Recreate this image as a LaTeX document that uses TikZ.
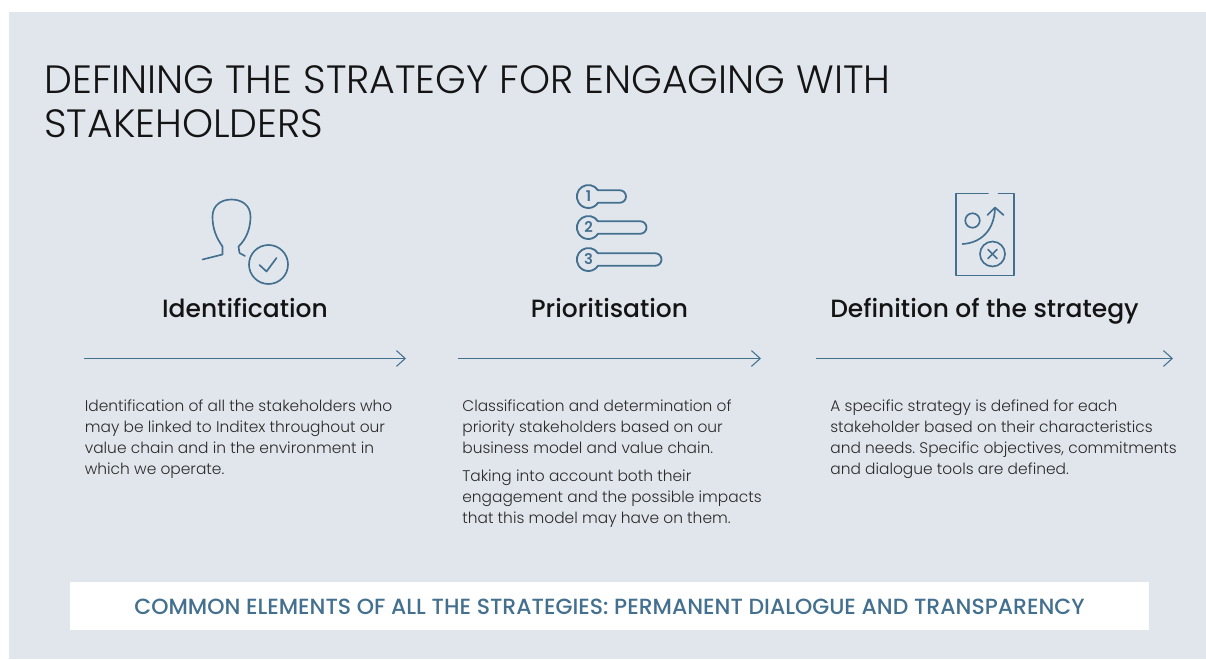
\documentclass[tikz,border=0pt]{standalone}
\usepackage{fontspec}
\setmainfont{Poppins}[UprightFont={* Light},BoldFont={* Medium}]
\newfontfamily\bannerfont{Poppins}[UprightFont={* Medium}]
\newfontfamily\numfont{Poppins}[UprightFont={* SemiBold}]
\usetikzlibrary{arrows.meta,positioning}
\definecolor{panelgrey}{HTML}{E1E6ED}
\definecolor{inkblue}{HTML}{44708F}
\definecolor{headblack}{HTML}{141414}
\definecolor{bodygrey}{HTML}{2A2A2A}
\frenchspacing
\tikzset{
  icon/.style={draw=inkblue,line width=0.95pt,line cap=round,line join=round},
  flow/.style={draw=inkblue,line width=0.6pt,-{Straight Barb[length=5pt,width=9pt]}},
  heading/.style={font=\bfseries\fontsize{14.2}{16}\selectfont,text=headblack,inner sep=0pt,anchor=base},
  bodytext/.style={font=\fontsize{8.78}{11.9}\selectfont,text=bodygrey,align=left,anchor=north west,inner sep=0pt}
}
\begin{document}
\begin{tikzpicture}
\useasboundingbox (0,0) rectangle (24.12,13.18);
\fill[panelgrey] (0.18,0) rectangle (24.12,12.94);

% title
\node[anchor=north west,inner sep=0pt,align=left,text=headblack,
  font=\fontsize{22.46}{25}\selectfont] (title) at (0.88,11.88)
  {DEFINING THE STRATEGY FOR ENGAGING WITH\\STAKEHOLDERS};

% draw icon 1
\draw[icon] (4.05,7.99) -- (4.45,8.09) -- (4.45,8.25)
  .. controls (4.33,8.42) and (4.25,8.6) .. (4.25,8.85)
  .. controls (4.25,9.07) and (4.42,9.19) .. (4.63,9.19)
  .. controls (4.84,9.19) and (5.01,9.07) .. (5.01,8.85)
  .. controls (5.01,8.65) and (4.95,8.42) .. (4.77,8.25)
  -- (4.79,8.12) -- (4.90,8.06);
\node[icon,circle,minimum size=0.78cm,inner sep=0pt] (check) at (5.37,7.89) {};
\draw[icon] (5.19,7.88) -- (5.33,7.75) -- (5.53,8.02);

% draw icon 2
\foreach \n/\y/\xe in {1/9.25/12.52,2/8.63/12.93,3/7.99/13.23}{
  \draw[icon,line width=1.05pt] (11.96,\y+0.125) arc[start angle=33,end angle=327,radius=0.23]
    -- (\xe-0.125,\y-0.125) arc[start angle=-90,end angle=90,radius=0.125] -- cycle;
  \node[text=inkblue,inner sep=0pt,font=\numfont\fontsize{8.4}{9}\selectfont] (num\n) at (11.77,\y) {\n};
}

% draw icon 3
\draw[icon] (19.76,9.31) -- (19.12,9.31) -- (19.12,7.67) -- (20.28,7.67) -- (20.28,9.31) -- (19.97,9.31);
\node[icon,circle,minimum size=0.29cm,inner sep=0pt] (dot) at (19.45,8.77) {};
\draw[icon] (19.25,8.30) .. controls (19.6,8.32) and (19.88,8.55) .. (19.90,9.01);
\draw[icon] (19.75,8.88) -- (19.90,9.03) -- (20.07,8.88);
\node[icon,circle,minimum size=0.5cm,inner sep=0pt] (cross) at (19.85,8.10) {};
\draw[icon] (19.76,8.01) -- (19.94,8.19);
\draw[icon] (19.76,8.19) -- (19.94,8.01);

% draw headings
\node[heading] (identification) at (4.9,6.84) {Identification};
\node[heading] (prioritisation) at (12.19,6.84) {Prioritisation};
\node[heading] (definition) at (19.69,6.84) {Definition of the strategy};

% draw arrows
\coordinate (a1) at (1.68,6.01);
\coordinate (b1) at (8.12,6.01);
\coordinate (a2) at (9.16,6.01);
\coordinate (b2) at (15.22,6.01);
\coordinate (a3) at (16.32,6.01);
\coordinate (b3) at (23.46,6.01);
\draw[flow] (a1) -- (b1);
\draw[flow] (a2) -- (b2);
\draw[flow] (a3) -- (b3);

% draw text
\node[bodytext] (text1) at (1.69,5.19) {Identification of all the stakeholders who\\may be linked to Inditex throughout our\\value chain and in the environment in\\which we operate.};
\node[bodytext] (text2) at (9.24,5.19) {Classification and determination of\\priority stakeholders based on our\\business model and value chain.};
\node[bodytext] (text2b) at (9.24,3.79) {Taking into account both their\\engagement and the possible impacts\\that this model may have on them.};
\node[bodytext] (text3) at (16.6,5.19) {A specific strategy is defined for each\\stakeholder based on their characteristics\\and needs. Specific objectives, commitments\\and dialogue tools are defined.};

% bottom banner
\fill[white] (1.4,0.58) rectangle (22.98,1.54);
\node[text=inkblue,inner sep=0pt,font=\bannerfont\fontsize{12.5}{14}\selectfont] (banner) at (12.19,1.05)
  {COMMON ELEMENTS OF ALL THE STRATEGIES: PERMANENT DIALOGUE AND TRANSPARENCY};
\end{tikzpicture}
\end{document}
